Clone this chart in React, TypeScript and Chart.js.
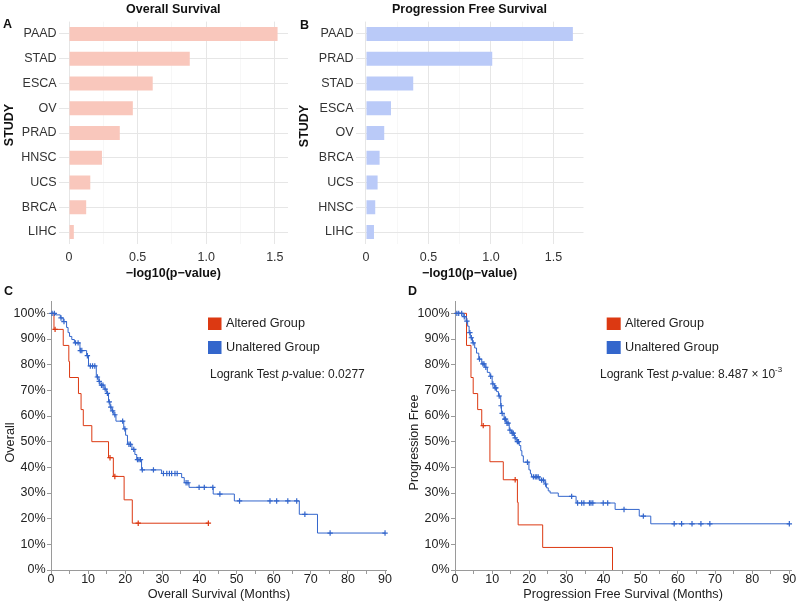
import { useEffect, useRef } from 'react';
import { Chart, registerables } from 'chart.js';

Chart.register(...registerables);

const FONT = '"Liberation Sans", Arial, Helvetica, sans-serif';
Chart.defaults.font.family = FONT;
Chart.defaults.color = '#222';

// ---------- Panel A / B data ----------
const OS_STUDY = ['PAAD', 'STAD', 'ESCA', 'OV', 'PRAD', 'HNSC', 'UCS', 'BRCA', 'LIHC'];
const OS_NEGLOG10P = [1.52, 0.88, 0.61, 0.465, 0.37, 0.24, 0.155, 0.125, 0.035];
const PFS_STUDY = ['PAAD', 'PRAD', 'STAD', 'ESCA', 'OV', 'BRCA', 'UCS', 'HNSC', 'LIHC'];
const PFS_NEGLOG10P = [1.655, 1.01, 0.378, 0.2, 0.146, 0.109, 0.093, 0.074, 0.064];
const BAR_TICKS = [0, 0.25, 0.5, 0.75, 1, 1.25, 1.5];

// ---------- Panel C / D data ----------
const KM_X_TICKS = [0, 5, 10, 15, 20, 25, 30, 35, 40, 45, 50, 55, 60, 65, 70, 75, 80, 85, 90];
const KM_Y_TICKS = [0, 10, 20, 30, 40, 50, 60, 70, 80, 90, 100];

const OS_ALT_T = [0, 0.8, 3.3, 4.8, 5.0, 7.4, 8.1, 8.7, 11.0, 15.5, 16.8, 19.7, 21.9, 42.4];
const OS_ALT_S = [100, 93.75, 87.5, 81.25, 75, 68.75, 62.5, 56.25, 50, 43.75, 36.46, 27.34, 18.23, 18.23];
const OS_ALT_CENS_T = [1.1, 15.9, 17.2, 23.5, 42.4];
const OS_ALT_CENS_S = [93.75, 43.75, 36.46, 18.23, 18.23];

const OS_UNALT_T = [0, 1.2, 2.5, 3.3, 4.2, 4.6, 5.0, 5.6, 6.3, 7.8, 9.6, 10.1, 12.2, 12.9, 13.2, 14.3, 15.0, 15.5, 15.9, 16.4, 16.9, 17.5, 19.6, 20.1, 20.6, 21.8, 22.6, 23.1, 24.4, 29.8, 35.2, 35.9, 37.2, 43.7, 49.4, 66.9, 71.8, 90];
const OS_UNALT_S = [100, 99.4, 98.2, 96.8, 94.5, 92.5, 91.0, 89.8, 88.5, 85.5, 83.5, 79.5, 75.2, 73.5, 72.0, 70.5, 68.8, 65.5, 63.5, 62.0, 60.5, 58.0, 55.0, 52.5, 49.0, 47.0, 45.0, 43.0, 39.0, 37.6, 36.0, 34.0, 32.2, 29.6, 26.9, 21.7, 14.4, 14.4];
const OS_UNALT_CENS_T = [0.3, 0.9, 2.7, 3.5, 6.6, 7.3, 7.9, 8.3, 9.8, 10.6, 11.2, 11.8, 12.5, 13.0, 13.6, 14.0, 14.6, 15.2, 15.7, 16.1, 16.6, 17.2, 19.3, 19.9, 21.0, 21.4, 22.3, 23.3, 23.7, 24.1, 24.6, 27.6, 30.3, 31.2, 31.9, 32.5, 33.4, 34.0, 36.4, 36.9, 39.9, 41.3, 43.6, 45.5, 50.8, 59.0, 60.8, 63.8, 66.2, 68.4, 75.2, 90];
const OS_UNALT_CENS_S = [100, 100, 98.2, 96.8, 88.5, 88.5, 85.5, 85.5, 83.5, 79.5, 79.5, 79.5, 75.2, 73.5, 72, 72, 70.5, 68.8, 65.5, 63.5, 62, 60.5, 58, 55, 49, 49, 47, 43, 43, 43, 39, 39, 37.6, 37.6, 37.6, 37.6, 37.6, 37.6, 34, 34, 32.2, 32.2, 32.2, 29.6, 26.9, 26.9, 26.9, 26.9, 26.9, 21.7, 14.4, 14.4];

const PFS_ALT_T = [0, 3.1, 4.3, 4.9, 6.1, 7.2, 9.4, 13.0, 16.8, 17.0, 23.6, 42.4];
const PFS_ALT_S = [100, 87.5, 75, 68.75, 62.5, 56.25, 42.19, 35.16, 26.37, 17.58, 8.79, 0];
const PFS_ALT_CENS_T = [7.6, 16.2];
const PFS_ALT_CENS_S = [56.25, 35.16];

const PFS_UNALT_T = [0, 2.2, 3.0, 3.4, 3.8, 4.1, 4.7, 5.3, 5.8, 6.4, 7.2, 8.0, 8.7, 9.4, 10.0, 10.6, 11.2, 11.7, 12.3, 12.5, 13.2, 13.8, 14.6, 15.2, 16.0, 16.5, 17.3, 17.7, 18.0, 18.4, 19.9, 20.3, 20.6, 22.8, 24.2, 24.6, 25.1, 25.6, 27.8, 32.6, 43.1, 49.6, 52.7, 90];
const PFS_UNALT_S = [100, 98.7, 97.0, 95.0, 92.5, 90.5, 88.5, 86.5, 84.5, 82.2, 80.3, 79.0, 77.0, 75.5, 72.5, 71.0, 69.5, 67.8, 64.0, 61.0, 58.8, 57.2, 54.5, 53.3, 51.5, 50.0, 48.5, 46.5, 44.5, 42.0, 39.0, 37.5, 36.3, 35.0, 33.5, 32.0, 30.8, 30.0, 28.7, 26.1, 23.6, 21.0, 18.0, 18.0];
const PFS_UNALT_CENS_T = [0.5, 1.0, 1.8, 2.5, 3.2, 4.0, 4.4, 4.9, 6.6, 7.5, 7.8, 8.3, 9.6, 10.2, 10.8, 11.0, 11.9, 12.4, 12.7, 13.4, 13.6, 14.0, 14.3, 14.8, 15.4, 15.7, 16.2, 16.8, 17.1, 19.5, 21.1, 21.6, 22.0, 22.4, 23.3, 23.8, 24.4, 31.4, 33.0, 34.1, 34.7, 36.2, 36.6, 37.1, 39.9, 41.1, 45.5, 50.7, 59.0, 61.0, 63.8, 66.2, 68.6, 90.0];
const PFS_UNALT_CENS_S = [100, 100, 100, 98.7, 97.0, 92.5, 90.5, 88.5, 82.2, 80.3, 80.3, 79.0, 75.5, 72.5, 71.0, 71.0, 67.8, 64.0, 61.0, 58.8, 58.8, 57.2, 57.2, 54.5, 53.3, 53.3, 51.5, 50.0, 50.0, 42.0, 36.3, 36.3, 36.3, 36.3, 35.0, 35.0, 33.5, 28.7, 26.1, 26.1, 26.1, 26.1, 26.1, 26.1, 26.1, 26.1, 23.6, 21.0, 18.0, 18.0, 18.0, 18.0, 18.0, 18.0];

const ALT_COLOR = '#dc3912';
const UNALT_COLOR = '#3366cc';
const OS_BAR_COLOR = '#f9c7bc';
const PFS_BAR_COLOR = '#bacaf8';

// ---------- overlay text plugin ----------
function makeOverlay(items: any[]) {
  return {
    id: 'overlayText',
    afterDraw(chart: any) {
      const ctx = chart.ctx;
      for (const it of items) {
        ctx.save();
        if (it.kind === 'rect') {
          ctx.fillStyle = it.color;
          ctx.fillRect(it.x, it.y, it.w, it.h);
        } else {
          ctx.translate(it.x, it.y);
          if (it.rotate) ctx.rotate(it.rotate);
          ctx.fillStyle = it.color || '#222';
          ctx.textBaseline = 'middle';
          ctx.textAlign = 'left';
          const parts = it.parts || [{ t: it.text }];
          const fontFor = (p: any) =>
            `${p.italic ? 'italic ' : ''}${it.bold ? 'bold ' : ''}${p.sup ? it.size * 0.66 : it.size}px ${FONT}`;
          let total = 0;
          for (const p of parts) {
            ctx.font = fontFor(p);
            total += ctx.measureText(p.t).width;
          }
          let x = it.align === 'center' ? -total / 2 : it.align === 'right' ? -total : 0;
          for (const p of parts) {
            ctx.font = fontFor(p);
            ctx.fillText(p.t, x, p.sup ? -it.size * 0.42 : 0);
            x += ctx.measureText(p.t).width;
          }
        }
        ctx.restore();
      }
    },
  };
}

const isMajor = (v: number) => Math.abs(v * 2 - Math.round(v * 2)) < 1e-6;

function makeBar(canvas: HTMLCanvasElement, labels: string[], values: number[], color: string, o: any) {
  return new Chart(canvas, {
    type: 'bar',
    data: {
      labels,
      datasets: [{ data: values, backgroundColor: color, borderWidth: 0, categoryPercentage: 1, barPercentage: 0.56 }],
    },
    options: {
      indexAxis: 'y',
      animation: false,
      responsive: false,
      maintainAspectRatio: false,
      layout: { padding: { left: 0, top: 21.6, right: o.right, bottom: 0 } },
      plugins: { legend: { display: false }, tooltip: { enabled: false }, title: { display: false } },
      scales: {
        x: {
          type: 'linear',
          min: o.min,
          max: o.max,
          afterFit: (s: any) => { s.height = 45.6; },
          afterBuildTicks: (s: any) => { s.ticks = BAR_TICKS.map((v) => ({ value: v })); },
          grid: {
            drawTicks: false,
            color: (c: any) => (c.tick && isMajor(c.tick.value) ? '#e6e6e6' : '#f2f2f2'),
            lineWidth: (c: any) => (c.tick && isMajor(c.tick.value) ? 1 : 0.6),
          },
          border: { display: false },
          ticks: {
            padding: 6,
            color: '#333',
            font: { size: 12.5 },
            callback: (v: any) => {
              const n = Number(v);
              if (!isMajor(n)) return '';
              return n === 0 ? '0' : n.toFixed(1);
            },
          },
          title: {
            display: true,
            text: '\u2212log10(p\u2212value)',
            color: '#111',
            font: { size: 12.5, weight: 'bold' },
            padding: { top: 0, bottom: 8.5 },
          },
        },
        y: {
          type: 'category',
          afterFit: (s: any) => { s.width = o.yw; },
          grid: { offset: false, drawTicks: false, color: '#e6e6e6' },
          border: { display: false },
          ticks: { padding: 2, color: '#333', font: { size: 12.5 } },
        },
      },
    } as any,
    plugins: [makeOverlay(o.items)],
  });
}

function pts(t: number[], s: number[]) {
  return t.map((x, i) => ({ x, y: s[i] }));
}

function makeKM(canvas: HTMLCanvasElement, g: any, o: any) {
  const stepLine = (data: any, color: string) => ({
    type: 'line',
    data,
    stepped: 'before',
    borderColor: color,
    borderWidth: 1,
    pointRadius: 0,
    fill: false,
    clip: false,
  });
  const cens = (data: any, color: string) => ({
    type: 'line',
    data,
    showLine: false,
    pointStyle: 'cross',
    pointRadius: 2.7,
    pointBorderWidth: 1.2,
    borderColor: color,
    backgroundColor: color,
    clip: false,
  });
  return new Chart(canvas, {
    type: 'line',
    data: {
      datasets: [
        stepLine(pts(g.unaltT, g.unaltS), UNALT_COLOR),
        cens(pts(g.unaltCT, g.unaltCS), UNALT_COLOR),
        stepLine(pts(g.altT, g.altS), ALT_COLOR),
        cens(pts(g.altCT, g.altCS), ALT_COLOR),
      ],
    } as any,
    options: {
      animation: false,
      responsive: false,
      maintainAspectRatio: false,
      layout: { padding: { left: 0, top: 21.8, right: o.right, bottom: 0 } },
      plugins: { legend: { display: false }, tooltip: { enabled: false }, title: { display: false } },
      scales: {
        x: {
          type: 'linear',
          min: 0,
          max: 90.5,
          afterFit: (s: any) => { s.height = 37; },
          afterBuildTicks: (s: any) => { s.ticks = KM_X_TICKS.map((v) => ({ value: v })); },
          grid: { drawOnChartArea: false, drawTicks: true, tickLength: 4, color: '#9a9a9a' },
          border: { display: true, color: '#9a9a9a', width: 1 },
          ticks: {
            padding: -1,
            color: '#222',
            font: { size: 12.5, lineHeight: 1 },
            maxRotation: 0,
            autoSkip: false,
            callback: (v: any) => (Number(v) % 10 === 0 ? String(v) : ''),
          },
          title: {
            display: true,
            text: o.xTitle,
            color: '#222',
            font: { size: 12.7 },
            padding: { top: 0, bottom: 5.1 },
          },
        },
        y: {
          type: 'linear',
          min: 0,
          max: 104.5,
          afterFit: (s: any) => { s.width = o.yw; },
          afterBuildTicks: (s: any) => { s.ticks = KM_Y_TICKS.map((v) => ({ value: v })); },
          grid: { drawOnChartArea: false, drawTicks: true, tickLength: 4, color: '#9a9a9a' },
          border: { display: true, color: '#9a9a9a', width: 1 },
          ticks: {
            padding: 1.5,
            color: '#222',
            font: { size: 12.5 },
            autoSkip: false,
            callback: (v: any) => `${v}%`,
          },
        },
      },
    } as any,
    plugins: [makeOverlay(o.items)],
  });
}

export default function App() {
  const aRef = useRef<HTMLCanvasElement>(null);
  const bRef = useRef<HTMLCanvasElement>(null);
  const cRef = useRef<HTMLCanvasElement>(null);
  const dRef = useRef<HTMLCanvasElement>(null);

  useEffect(() => {
    document.body.style.margin = '0';
    const charts: Chart[] = [];
    charts.push(
      makeBar(aRef.current!, OS_STUDY, OS_NEGLOG10P, OS_BAR_COLOR, {
        min: -0.076,
        max: 1.596,
        right: 2,
        yw: 58.6,
        items: [
          { kind: 'text', text: 'A', x: 3, y: 25, size: 12.5, bold: true, color: '#111' },
          { kind: 'text', text: 'Overall Survival', x: 173.3, y: 10, size: 12.5, bold: true, align: 'center', color: '#111' },
          { kind: 'text', text: 'STUDY', x: 10, y: 125, size: 12.5, bold: true, align: 'center', rotate: -Math.PI / 2, color: '#111' },
        ],
      })
    );
    charts.push(
      makeBar(bRef.current!, PFS_STUDY, PFS_NEGLOG10P, PFS_BAR_COLOR, {
        min: -0.083,
        max: 1.74,
        right: 16.5,
        yw: 65.6,
        items: [
          { kind: 'text', text: 'B', x: 10, y: 25.5, size: 12.5, bold: true, color: '#111' },
          { kind: 'text', text: 'Progression Free Survival', x: 179.5, y: 10, size: 12.5, bold: true, align: 'center', color: '#111' },
          { kind: 'text', text: 'STUDY', x: 15, y: 126, size: 12.5, bold: true, align: 'center', rotate: -Math.PI / 2, color: '#111' },
        ],
      })
    );
    charts.push(
      makeKM(
        cRef.current!,
        {
          altT: OS_ALT_T, altS: OS_ALT_S, altCT: OS_ALT_CENS_T, altCS: OS_ALT_CENS_S,
          unaltT: OS_UNALT_T, unaltS: OS_UNALT_S, unaltCT: OS_UNALT_CENS_T, unaltCS: OS_UNALT_CENS_S,
        },
        {
          right: 13.1,
          yw: 51,
          xTitle: 'Overall Survival (Months)',
          items: [
            { kind: 'text', text: 'C', x: 4, y: 11.5, size: 12.5, bold: true, color: '#111' },
            { kind: 'text', text: 'Overall', x: 10, y: 162.5, size: 12.7, align: 'center', rotate: -Math.PI / 2 },
            { kind: 'rect', x: 208, y: 37.5, w: 13.5, h: 12.5, color: ALT_COLOR },
            { kind: 'rect', x: 208, y: 61, w: 13.5, h: 13, color: UNALT_COLOR },
            { kind: 'text', text: 'Altered Group', x: 226, y: 43.5, size: 12.7 },
            { kind: 'text', text: 'Unaltered Group', x: 226, y: 67.5, size: 12.7 },
            {
              kind: 'text', x: 210, y: 95, size: 12,
              parts: [{ t: 'Logrank Test ' }, { t: 'p', italic: true }, { t: '-value: 0.0277' }],
            },
          ],
        }
      )
    );
    charts.push(
      makeKM(
        dRef.current!,
        {
          altT: PFS_ALT_T, altS: PFS_ALT_S, altCT: PFS_ALT_CENS_T, altCS: PFS_ALT_CENS_S,
          unaltT: PFS_UNALT_T, unaltS: PFS_UNALT_S, unaltCT: PFS_UNALT_CENS_T, unaltCS: PFS_UNALT_CENS_S,
        },
        {
          right: 6.8,
          yw: 55,
          xTitle: 'Progression Free Survival (Months)',
          items: [
            { kind: 'text', text: 'D', x: 8, y: 12, size: 12.5, bold: true, color: '#111' },
            { kind: 'text', text: 'Progression Free', x: 15, y: 162.5, size: 12.5, align: 'center', rotate: -Math.PI / 2 },
            { kind: 'rect', x: 206.7, y: 37.5, w: 14, h: 12.5, color: ALT_COLOR },
            { kind: 'rect', x: 206.7, y: 61, w: 14, h: 13, color: UNALT_COLOR },
            { kind: 'text', text: 'Altered Group', x: 225, y: 43.5, size: 12.7 },
            { kind: 'text', text: 'Unaltered Group', x: 225, y: 67.5, size: 12.7 },
            {
              kind: 'text', x: 200, y: 95, size: 12,
              parts: [{ t: 'Logrank Test ' }, { t: 'p', italic: true }, { t: '-value: 8.487 \u00d7 10' }, { t: '-3', sup: true }],
            },
          ],
        }
      )
    );
    return () => charts.forEach((c) => c.destroy());
  }, []);

  const abs = (left: number, top: number, w: number, h: number) => ({
    position: 'absolute' as const, left, top, width: w, height: h,
  });

  return (
    <div style={{ position: 'absolute', left: 0, top: 0, width: 798, height: 607, background: '#fff', overflow: 'hidden' }}>
      <canvas ref={aRef} width={290} height={290} style={abs(0, 0, 290, 290)} />
      <canvas ref={bRef} width={310} height={290} style={abs(290, 0, 310, 290)} />
      <canvas ref={cRef} width={400} height={327} style={abs(0, 280, 400, 327)} />
      <canvas ref={dRef} width={398} height={327} style={abs(400, 280, 398, 327)} />
    </div>
  );
}
